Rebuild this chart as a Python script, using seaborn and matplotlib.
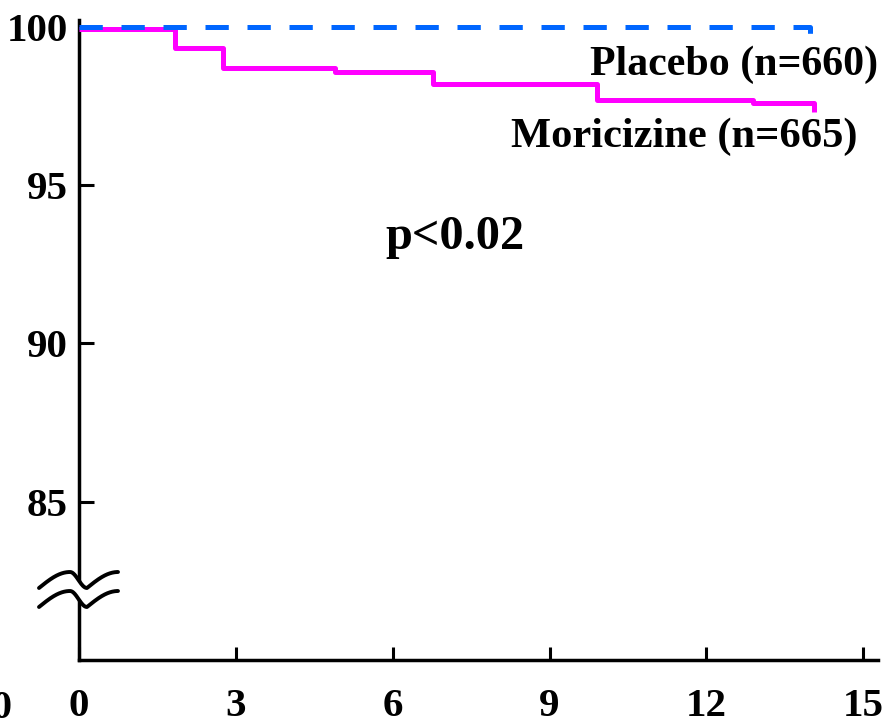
import numpy as np
import pandas as pd
import matplotlib
matplotlib.use("Agg")
import matplotlib.pyplot as plt
import seaborn as sns

# -----------------------------
# data
# -----------------------------
mor_months = [0, 1.84, 2.75, 4.9, 6.77, 9.9, 12.89, 14.05]
mor_surv = [99.93, 99.33, 98.69, 98.59, 98.19, 97.69, 97.59, 97.3]
pla_months = [0, 13.98]
pla_surv = [100, 99.65]

x_ticks = [0, 3, 6, 9, 12, 15]
y_ticks = [85, 90, 95, 100]

label_pla = "Placebo (n=660)"
label_mor = "Moricizine (n=665)"
p_text = "p<0.02"

# -----------------------------
# style
# -----------------------------
sns.set_style("ticks")
plt.rcParams['font.family'] = ['Liberation Serif', 'DejaVu Serif']
plt.rcParams['font.weight'] = 'bold'
plt.rcParams['text.color'] = 'black'
plt.rcParams['xtick.color'] = 'black'
plt.rcParams['ytick.color'] = 'black'
plt.rcParams['xtick.labelcolor'] = 'black'
plt.rcParams['ytick.labelcolor'] = 'black'

fig = plt.figure(figsize=(8.91, 7.27), dpi=100)
ax = fig.add_axes([0.08866, 0.09216, 0.89675, 0.88033])

df_mor = pd.DataFrame({'month': mor_months, 'surv': mor_surv})
df_pla = pd.DataFrame({'month': pla_months, 'surv': pla_surv})

sns.lineplot(data=df_mor, x='month', y='surv', ax=ax, color='#ff00ff',
             lw=3.6, drawstyle='steps-post', estimator=None, sort=False,
             solid_capstyle='butt', zorder=3)
sns.lineplot(data=df_pla, x='month', y='surv', ax=ax, color='#0066ff',
             lw=3.6, drawstyle='steps-post', estimator=None, sort=False,
             dashes=False, zorder=4)
ax.lines[-1].set_dashes((4.66, 3.74))
ax.lines[-1].set_dash_capstyle('butt')

ax.set_xlim(0, 15.28)
ax.set_ylim(80, 100.22)
ax.set_xticks(x_ticks)
ax.set_yticks(y_ticks)
ax.set_xlabel("")
ax.set_ylabel("")

for s in ['top', 'right']:
    ax.spines[s].set_visible(False)
for s in ['left', 'bottom']:
    ax.spines[s].set_linewidth(2.5)
    ax.spines[s].set_color('black')

ax.tick_params(axis='y', direction='in', length=10.5, width=2.2,
               labelsize=29.5, pad=8, colors='black')
ax.tick_params(axis='x', direction='in', length=9.5, width=2.2,
               labelsize=29.5, pad=20, colors='black')
for lab in ax.get_xticklabels() + ax.get_yticklabels():
    lab.set_fontweight('bold')

# annotations
ax.text(15.28, 98.48, label_pla, ha='right', va='baseline',
        fontsize=30.2, fontweight='bold', color='black')
ax.text(14.88, 96.2, label_mor, ha='right', va='baseline',
        fontsize=30.6, fontweight='bold', color='black')
ax.text(5.85, 93.0, p_text, ha='left', va='baseline',
        fontsize=34.8, fontweight='bold', color='black')

# axis break marks on the y axis (pixel positions around the spine)
def wave(px):
    # tilde shape: up to a crest left of the spine, a trough right of it
    return np.where(
        px < 70, 588 - 16 * np.sin((px - 39) / 31 * np.pi / 2),
        np.where(px < 87, 580 - 8 * np.cos(np.pi * (px - 70) / 17),
                 588 - 16 * np.sin((px - 87) / 31 * np.pi / 2)))

px = np.linspace(39, 118, 240)
ax_w, ax_h = 799.0, 640.0
bx = (px - 79) / ax_w
top_y = (660 - wave(px)) / ax_h
bot_y = (660 - (wave(px) + 19)) / ax_h
ax.fill_between(bx, bot_y, top_y, color='white', transform=ax.transAxes,
                clip_on=False, zorder=5, lw=0)
ax.plot(bx, top_y, color='black', lw=2.8, transform=ax.transAxes,
        clip_on=False, zorder=6)
ax.plot(bx, bot_y, color='black', lw=2.8, transform=ax.transAxes,
        clip_on=False, zorder=6)

# clipped label fragment at the lower left edge
fig.text(0.002, 0.026, "0", ha='center', va='center', fontsize=29,
         fontweight='bold', color='black')

plt.savefig("out.png", dpi=100)
plt.close()
